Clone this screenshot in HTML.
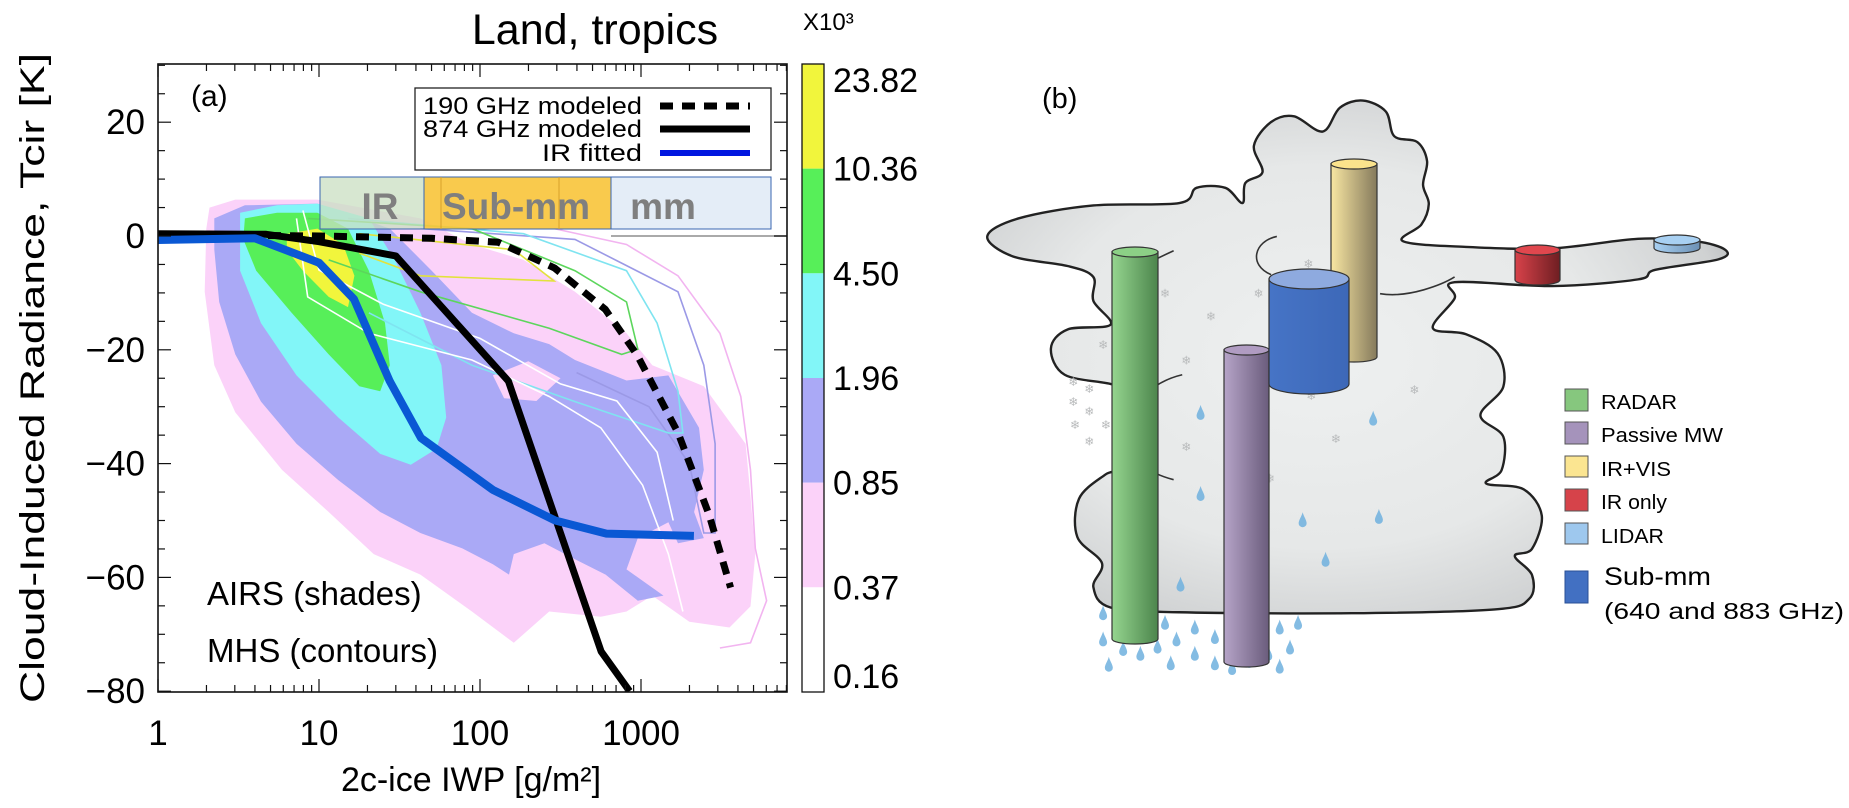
<!DOCTYPE html>
<html><head><meta charset="utf-8"><style>
html,body{margin:0;padding:0;background:#fff;}
svg{display:block;}
text{font-family:"Liberation Sans",sans-serif;}
</style></head><body>
<svg id="fig" width="1849" height="808" viewBox="0 0 1849 808" xmlns="http://www.w3.org/2000/svg">
<defs>
<clipPath id="plotClip"><rect x="158" y="64" width="629" height="628"/></clipPath>
<radialGradient id="cloudGrad" cx="0.45" cy="0.5" r="0.62">
<stop offset="0" stop-color="#eef0f0"/><stop offset="0.6" stop-color="#e6e8e8"/><stop offset="0.9" stop-color="#cfd1d2"/><stop offset="1" stop-color="#b4b6b7"/>
</radialGradient>
<linearGradient id="gGreen" x1="0" x2="1"><stop offset="0" stop-color="#95d58f"/><stop offset="1" stop-color="#4c854c"/></linearGradient>
<linearGradient id="gPurple" x1="0" x2="1"><stop offset="0" stop-color="#b6a4c8"/><stop offset="1" stop-color="#6a5c7c"/></linearGradient>
<linearGradient id="gYellow" x1="0" x2="1"><stop offset="0" stop-color="#f8e6a2"/><stop offset="1" stop-color="#857a5c"/></linearGradient>
<linearGradient id="gBlue" x1="0" x2="1"><stop offset="0" stop-color="#4674c6"/><stop offset="1" stop-color="#3d68b8"/></linearGradient>
<linearGradient id="gRed" x1="0" x2="1"><stop offset="0" stop-color="#d8424a"/><stop offset="1" stop-color="#6e1e22"/></linearGradient>
<linearGradient id="gLBlue" x1="0" x2="1"><stop offset="0" stop-color="#a8d0f2"/><stop offset="1" stop-color="#6c90b4"/></linearGradient>
</defs>

<g id="panelA">
<text x="595" y="44" font-size="43" text-anchor="middle">Land, tropics</text>
<text x="803" y="30" font-size="24">X10³</text>
<text transform="translate(44,378) rotate(-90)" font-size="34" text-anchor="middle" textLength="650" lengthAdjust="spacingAndGlyphs">Cloud-Induced Radiance, Tcir [K]</text>
<text x="471" y="791" font-size="34" text-anchor="middle">2c-ice IWP [g/m²]</text>
<g id="shades" clip-path="url(#plotClip)"></g>
<g id="contours" clip-path="url(#plotClip)"></g>
<line x1="611" y1="236" x2="787" y2="236" stroke="#aaa" stroke-width="2"/>
<g>
<rect x="320" y="177" width="104" height="52" fill="#c9dfc2" fill-opacity="0.75" stroke="#3a66b0" stroke-width="1"/>
<rect x="424" y="177" width="187" height="52" fill="#f8c53e" fill-opacity="0.92" stroke="#3a66b0" stroke-width="1"/>
<line x1="441" y1="177" x2="441" y2="229" stroke="#d9a22a" stroke-width="1"/>
<line x1="559" y1="177" x2="559" y2="229" stroke="#d9a22a" stroke-width="1"/>
<rect x="611" y="177" width="160" height="52" fill="#e4edf7" stroke="#3a66b0" stroke-width="1"/>
<text x="380" y="219" font-size="37" font-weight="bold" fill="#7f7f7f" text-anchor="middle">IR</text>
<text x="516" y="219" font-size="37" font-weight="bold" fill="#7f7f7f" text-anchor="middle">Sub-mm</text>
<text x="663" y="219" font-size="37" font-weight="bold" fill="#7f7f7f" text-anchor="middle">mm</text>
</g>
<g id="curves" clip-path="url(#plotClip)"></g>
<g id="axes"></g>
<text x="191" y="106" font-size="30">(a)</text>
<g>
<rect x="415" y="88" width="356" height="82" fill="#fff" stroke="#222" stroke-width="1.3"/>
<text x="642" y="114" font-size="24" text-anchor="end" textLength="219" lengthAdjust="spacingAndGlyphs">190 GHz modeled</text>
<line x1="660" y1="106" x2="750" y2="106" stroke="#000" stroke-width="7" stroke-dasharray="13,9"/>
<text x="642" y="137" font-size="24" text-anchor="end" textLength="219" lengthAdjust="spacingAndGlyphs">874 GHz modeled</text>
<line x1="660" y1="129" x2="750" y2="129" stroke="#000" stroke-width="7"/>
<text x="642" y="161" font-size="24" text-anchor="end" textLength="100" lengthAdjust="spacingAndGlyphs">IR fitted</text>
<line x1="660" y1="153" x2="750" y2="153" stroke="#0016e0" stroke-width="6"/>
</g>
<text x="207" y="605" font-size="33">AIRS (shades)</text>
<text x="207" y="662" font-size="33">MHS (contours)</text>
<g id="colorbar"></g>
</g>

<g id="panelB">
<text x="1042" y="108" font-size="29">(b)</text>
<g transform="translate(950,60) scale(0.5734,0.4769)">
<path id="cloudPath" fill="url(#cloudGrad)" stroke="#222" stroke-width="2.4" vector-effect="non-scaling-stroke"/>
<g fill="none" stroke="#333" stroke-width="1.6" vector-effect="non-scaling-stroke">
<path d="M390,400 C300,450 250,480 330,565" vector-effect="non-scaling-stroke"/>
<path d="M405,660 C300,690 260,840 390,880" vector-effect="non-scaling-stroke"/>
<path d="M880,455 C860,470 800,500 750,490" vector-effect="non-scaling-stroke"/>
<path d="M570,370 C530,380 520,430 560,450" vector-effect="non-scaling-stroke"/>
</g>
</g>
<g id="weather"></g>
<g id="cylinders"></g>
<g>
<rect x="1565" y="389" width="23" height="22" fill="#86c77e" stroke="#555"/>
<text x="1601" y="409" font-size="20" textLength="76" lengthAdjust="spacingAndGlyphs">RADAR</text>
<rect x="1565" y="422" width="23" height="22" fill="#a593bb" stroke="#555"/>
<text x="1601" y="442" font-size="20" textLength="122" lengthAdjust="spacingAndGlyphs">Passive MW</text>
<rect x="1565" y="456" width="23" height="21" fill="#fbe591" stroke="#555"/>
<text x="1601" y="476" font-size="20" textLength="70" lengthAdjust="spacingAndGlyphs">IR+VIS</text>
<rect x="1565" y="489" width="23" height="22" fill="#d6434a" stroke="#555"/>
<text x="1601" y="509" font-size="20" textLength="66" lengthAdjust="spacingAndGlyphs">IR only</text>
<rect x="1565" y="523" width="23" height="21" fill="#9ec8ee" stroke="#555"/>
<text x="1601" y="543" font-size="20" textLength="63" lengthAdjust="spacingAndGlyphs">LIDAR</text>
<rect x="1565" y="571" width="23" height="32" fill="#4270c2" stroke="#2a4f95"/>
<text x="1604" y="585" font-size="25" textLength="107" lengthAdjust="spacingAndGlyphs">Sub-mm</text>
<text x="1604" y="619" font-size="23" textLength="240" lengthAdjust="spacingAndGlyphs">(640 and 883 GHz)</text>
</g>
</g>
</svg>
<script>
const NS='http://www.w3.org/2000/svg';
// ---- Panel (a) data ----
const xTickVals=[1,10,100,1000];
const xTickLabels=['1','10','100','1000'];
const yTickVals=[20,0,-20,-40,-60,-80];
const yTickLabels=['20','0','\u221220','\u221240','\u221260','\u221280'];
const cbLabels=['23.82','10.36','4.50','1.96','0.85','0.37','0.16'];
const cbColors=['#f1f53c','#57ef59','#82f6f8','#aaa9f6','#fbd2f9','#ffffff'];
const iwp190=[1,10,50,130,290,600,950,1700,2650,3600];
const t190=[0.3,0,-0.4,-1.1,-5.6,-12.9,-21,-34.6,-49,-61.8];
const iwp874=[1,4.7,10,30,150,565,850];
const t874=[0.4,0.3,-1,-3.5,-25.5,-73,-80];
const iwpIR=[1,4,10,16.5,27.5,43,120,293,610,2130];
const tIR=[-0.7,-0.4,-4.7,-11.1,-25.5,-35.5,-44.6,-50,-52.3,-52.7];
// shade polygons: [log10 IWP, Tcir]
const shadePink=[[0.32,5.0],[0.48,6.4],[0.99,6.4],[1.63,3.1],[1.95,-1.5],[2.27,-4.2],[2.59,-9.8],[2.91,-17.1],[3.07,-22.7],[3.39,-26.4],[3.65,-36.5],[3.68,-45.7],[3.71,-55.9],[3.68,-65.1],[3.55,-68.8],[3.30,-67.8],[3.07,-63.2],[2.91,-66.0],[2.75,-66.9],[2.43,-66.0],[2.21,-71.5],[1.95,-66.0],[1.63,-59.5],[1.34,-55.9],[1.06,-48.5],[0.77,-41.1],[0.48,-31.0],[0.35,-22.7],[0.29,-9.8],[0.30,1.3]];
const shadePurple=[[0.35,3.1],[0.54,5.4],[0.99,5.7],[1.44,1.3],[1.70,-6.1],[1.95,-13.5],[2.21,-17.1],[2.43,-19.0],[2.59,-21.8],[2.91,-25.4],[3.17,-24.5],[3.36,-33.7],[3.39,-41.1],[3.33,-48.5],[3.39,-53.1],[3.23,-54.0],[3.17,-50.3],[2.98,-53.1],[2.91,-58.6],[3.14,-63.2],[2.98,-64.1],[2.78,-59.5],[2.59,-56.8],[2.40,-54.0],[2.21,-55.9],[2.18,-59.5],[2.08,-57.7],[1.89,-54.9],[1.63,-52.2],[1.38,-48.5],[1.12,-42.9],[0.86,-36.5],[0.64,-29.1],[0.48,-20.8],[0.38,-11.6],[0.35,-2.4]];
const shadePinkHole=[[2.08,-24.5],[2.30,-22.0],[2.50,-25.0],[2.35,-29.0],[2.15,-28.5]];
const shadeCyan=[[0.51,4.1],[0.74,5.4],[0.99,5.7],[1.31,3.1],[1.47,-4.2],[1.63,-13.5],[1.76,-22.7],[1.79,-31.9],[1.73,-37.4],[1.57,-40.2],[1.38,-38.3],[1.12,-31.9],[0.86,-24.5],[0.64,-15.3],[0.51,-6.1]];
const shadeGreen=[[0.54,3.1],[0.74,4.1],[0.99,4.1],[1.18,1.3],[1.31,-6.1],[1.41,-15.3],[1.44,-22.7],[1.38,-27.3],[1.25,-26.4],[1.06,-20.8],[0.83,-13.5],[0.61,-6.1],[0.53,-0.6]];
const shadeYellow=[[0.80,0.4],[0.99,1.3],[1.15,-1.5],[1.22,-7.0],[1.18,-12.5],[1.06,-10.7],[0.90,-6.1],[0.80,-2.4]];
// MHS contour lines: [log10 IWP, Tcir]
const contourPink=[[2.46,1.3],[2.91,-1.5],[3.23,-7.0],[3.49,-17.1],[3.62,-28.2],[3.68,-41.1],[3.71,-54.9],[3.78,-64.1],[3.68,-71.5],[3.49,-72.4]];
const contourPurple=[[1.63,1.3],[2.59,-0.6],[3.23,-9.8],[3.39,-22.7],[3.46,-36.5],[3.46,-52.2],[3.39,-52.2],[3.30,-40],[3.05,-30],[2.6,-24]];
const contourCyan=[[1.18,3.1],[2.27,0.4],[2.91,-6.1],[3.10,-15.3],[3.23,-27.3],[3.26,-34.6],[3.17,-34.6],[2.59,-29.1],[1.95,-22.7],[1.31,-13.5]];
const contourGreen=[[0.93,3.1],[1.95,1.3],[2.59,-6.1],[2.91,-11.6],[2.98,-19.9],[2.88,-20.8],[2.43,-16.2],[1.63,-9.8],[1.06,-4.2]];
const contourYellow=[[1.25,0.4],[2.21,-2.4],[2.46,-7.9],[1.63,-7.0],[1.25,-3]];
const contourWhite=[[0.86,3.1],[0.93,-10.7],[1.31,-17.1],[1.95,-21.8],[2.43,-28.2],[2.75,-33.7],[3.01,-43.8],[3.17,-55.9],[3.26,-66.0]];
const contourWhite2=[[0.90,4.5],[1.0,-6],[1.4,-12],[2.0,-18],[2.5,-26],[2.85,-29],[3.1,-38],[3.2,-50]];

const X0=158,X1=787,Y0=64,Y1=692;
function xs(v){return X0+Math.log10(v)*161;}
function xl(l){return X0+l*161;}
function ys(v){return 236-v*5.69;}
function el(tag,attrs,parent){const e=document.createElementNS(NS,tag);for(const k in attrs)e.setAttribute(k,attrs[k]);parent.appendChild(e);return e;}

const shades=document.getElementById('shades');
[[shadePink,'#fbd2f9','shade-pink'],[shadePurple,'#aaa9f6','shade-purple'],[shadePinkHole,'#fbd2f9','shade-pink-patch'],[shadeCyan,'#82f6f8','shade-cyan'],[shadeGreen,'#57ef59','shade-green'],[shadeYellow,'#f1f53c','shade-yellow']].forEach(s=>{
  const p=el('polygon',{points:s[0].map(q=>xl(q[0]).toFixed(1)+','+ys(q[1]).toFixed(1)).join(' '),fill:s[1]},shades);
  
  
});
const contours=document.getElementById('contours');
[[contourPink,'#f2b4f0','contour-pink'],[contourPurple,'#9b99e6','contour-purple'],[contourCyan,'#7fe4f0','contour-cyan'],[contourGreen,'#5cd65c','contour-green'],[contourYellow,'#e2e23c','contour-yellow'],[contourWhite,'#ffffff','contour-white'],[contourWhite2,'#ffffff','contour-white-2']].forEach(s=>{
  const p=el('polyline',{points:s[0].map(q=>xl(q[0]).toFixed(1)+','+ys(q[1]).toFixed(1)).join(' '),fill:'none',stroke:s[1],'stroke-width':1.6},contours);
  
  
});
const curves=document.getElementById('curves');
function line(xv,yv,attrs,name){
  const pts=xv.map((v,i)=>xs(v).toFixed(1)+','+ys(yv[i]).toFixed(1)).join(' ');
  const p=el('polyline',Object.assign({points:pts,fill:'none','stroke-linejoin':'round'},attrs),curves);
  
  
}
line(iwp190,t190,{stroke:'#000','stroke-width':7,'stroke-dasharray':'13,9'},'line-190ghz-modeled');
line(iwp874,t874,{stroke:'#000','stroke-width':7},'line-874ghz-modeled');
line(iwpIR,tIR,{stroke:'#0a58d4','stroke-width':8,'stroke-linecap':'butt'},'line-ir-fitted');

const axes=document.getElementById('axes');
el('rect',{x:X0,y:Y0,width:X1-X0,height:Y1-Y0,fill:'none',stroke:'#111','stroke-width':1.6},axes);
// y ticks
for(let v=30;v>=-80;v-=5){
  const y=ys(v); if(y<Y0-0.5||y>Y1+0.5)continue;
  const major=(v%20===0);const L=major?13:7;
  el('line',{x1:X0,y1:y,x2:X0+L,y2:y,stroke:'#111','stroke-width':1.2},axes);
  el('line',{x1:X1,y1:y,x2:X1-L,y2:y,stroke:'#111','stroke-width':1.2},axes);
}
yTickVals.forEach((v,i)=>{
  const t=el('text',{x:145,y:ys(v)+12,'font-size':35,'text-anchor':'end'},axes);
  t.textContent=yTickLabels[i];
  
  
});
// x ticks
for(let d=0;d<4;d++){for(let m=1;m<10;m++){
  const v=m*Math.pow(10,d);const x=xs(v);if(x>X1)continue;
  const L=m===1?13:7;
  el('line',{x1:x,y1:Y1,x2:x,y2:Y1-L,stroke:'#111','stroke-width':1.2},axes);
  el('line',{x1:x,y1:Y0,x2:x,y2:Y0+L,stroke:'#111','stroke-width':1.2},axes);
}}
xTickVals.forEach((v,i)=>{
  const t=el('text',{x:xs(v),y:745,'font-size':35,'text-anchor':'middle'},axes);
  t.textContent=xTickLabels[i];
  
  
});
// colorbar
const cb=document.getElementById('colorbar');
const cbH=(Y1-Y0)/cbColors.length;
cbColors.forEach((c,i)=>{
  const r=el('rect',{x:802,y:Y0+i*cbH,width:22,height:cbH,fill:c},cb);
  
  
});
el('rect',{x:802,y:Y0,width:22,height:Y1-Y0,fill:'none',stroke:'#111','stroke-width':1.3},cb);
cbLabels.forEach((s,i)=>{
  let y=Y0+i*cbH; if(i===0)y=Y0+16; if(i===cbLabels.length-1)y=Y1-16;
  const t=el('text',{x:833,y:y+12,'font-size':34},cb);
  t.textContent=s;
  
  
});

// ---- Panel (b) ----
const cloudPts=[[65,370],[120,332],[250,305],[400,300],[430,268],[480,268],[510,300],[515,258],[545,235],[530,180],[560,130],[600,118],[650,150],[680,100],[720,85],[760,108],[775,160],[815,172],[832,212],[825,262],[835,302],[822,345],[790,380],[900,392],[1050,395],[1200,375],[1300,380],[1352,398],[1340,418],[1230,440],[1200,460],[1050,474],[880,466],[880,500],[842,562],[900,575],[955,615],[965,685],[925,745],[965,790],[962,860],[935,888],[1000,900],[1032,955],[1015,1025],[985,1040],[1015,1080],[1010,1130],[950,1152],[700,1160],[400,1158],[280,1148],[250,1105],[265,1055],[222,1000],[225,920],[270,870],[300,852],[290,780],[300,700],[282,680],[200,660],[176,605],[205,565],[280,555],[250,505],[250,455],[205,432],[110,412]];
(function(){
  const n=cloudPts.length;let d='M'+cloudPts[0].join(',');
  for(let i=0;i<n;i++){
    const p0=cloudPts[(i-1+n)%n],p1=cloudPts[i],p2=cloudPts[(i+1)%n],p3=cloudPts[(i+2)%n];
    const c1=[p1[0]+(p2[0]-p0[0])/6,p1[1]+(p2[1]-p0[1])/6];
    const c2=[p2[0]-(p3[0]-p1[0])/6,p2[1]-(p3[1]-p1[1])/6];
    d+=' C'+c1.map(v=>v.toFixed(1)).join(',')+' '+c2.map(v=>v.toFixed(1)).join(',')+' '+p2.join(',');
  }
  document.getElementById('cloudPath').setAttribute('d',d+' Z');
})();
function BX(x){return 950+x*0.5734;} function BY(y){return 60+y*0.4769;}
const weather=document.getElementById('weather');
const flakes=[[375,490],[455,538],[538,490],[625,428],[412,630],[215,675],[243,690],[215,717],[243,737],[218,765],[272,765],[243,800],[412,812],[673,795],[810,692],[630,705],[267,598],[300,700],[718,500],[558,878]];
flakes.forEach(f=>{
  const t=el('text',{x:BX(f[0]),y:BY(f[1])+4,'font-size':12,fill:'#b9bbbc','text-anchor':'middle'},weather);
  t.textContent='\u2744';
  
  
});
const drops=[[437,740],[437,910],[402,1100],[615,965],[655,1048],[738,752],[748,958],[267,1160],[303,1180],[337,1195],[375,1180],[427,1190],[462,1210],[492,1180],[515,1175],[537,1210],[575,1190],[607,1180],[267,1215],[302,1235],[332,1245],[362,1230],[395,1215],[427,1245],[462,1265],[497,1225],[492,1275],[522,1260],[555,1245],[593,1232],[575,1272],[277,1268],[385,1265],[352,1018],[513,1060],[540,778]];
drops.forEach(q=>{
  const x=BX(q[0]),y=BY(q[1]);
  const p=el('path',{d:`M${x},${y-8} C${x+1},${y-4} ${x+4},${y} ${x+4},${y+3} A4,4 0 0 1 ${x-4},${y+3} C${x-4},${y} ${x-1},${y-4} ${x},${y-8} Z`,fill:'#6fb0de','fill-opacity':0.85},weather);
  
  
});
const cyls=document.getElementById('cylinders');
function cyl(x1,x2,yt,yb,ry,grad,top,name){
  const g=el('g',{},cyls);
  
  
  const cx=(x1+x2)/2,rx=(x2-x1)/2;
  el('path',{d:`M${x1},${yt} L${x1},${yb} A${rx},${ry} 0 0 0 ${x2},${yb} L${x2},${yt} Z`,fill:`url(#${grad})`,stroke:'#333','stroke-width':1.2},g);
  el('ellipse',{cx:cx,cy:yt,rx:rx,ry:ry,fill:top,stroke:'#333','stroke-width':1.2},g);
}
cyl(1331,1377,164,357,5,'gYellow','#fbe38c','cylinder-ir-vis');
cyl(1112,1158,252,639,5,'gGreen','#8cd086','cylinder-radar');
cyl(1224,1269,350,662,5,'gPurple','#b09cc2','cylinder-passive-mw');
cyl(1269,1349,279,384,10,'gBlue','#8eaadf','cylinder-submm');
cyl(1515,1560,250,280,5,'gRed','#e0474e','cylinder-ir-only');
cyl(1654,1700,240,248,5,'gLBlue','#a8d0f2','cylinder-lidar');
</script>
</body></html>
